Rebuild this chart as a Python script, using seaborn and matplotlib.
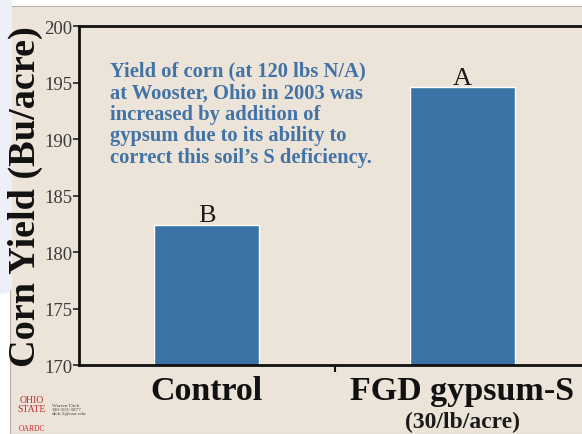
import matplotlib
matplotlib.use('Agg')
import matplotlib.pyplot as plt
import matplotlib.patches as mpatches
import seaborn as sns
import pandas as pd

# data
categories = ['Control', 'FGD gypsum-S']
yields = [182.4, 194.6]
letters = ['B', 'A']
sub_labels = ['', '(30/lb/acre)']
yticks = [170, 175, 180, 185, 190, 195, 200]
note = ("Yield of corn (at 120 lbs N/A)\n"
        "at Wooster, Ohio in 2003 was\n"
        "increased by addition of\n"
        "gypsum due to its ability to\n"
        "correct this soil\u2019s S deficiency.")

BG = '#ede4d9'
BAR = '#3b73a6'
NOTE = '#4273a6'
SERIF = 'Liberation Serif'

sns.set_style('white')
plt.rcParams['font.family'] = [SERIF, 'DejaVu Serif']

df = pd.DataFrame({'cat': categories, 'yield': yields})

fig = plt.figure(figsize=(5.82, 4.35), dpi=100)
fig.patch.set_facecolor('white')

# slide panel + left strip
fig.patches.append(mpatches.Rectangle((10/582, 0), 1, (435-7)/435, transform=fig.transFigure,
                                      facecolor=BG, edgecolor='#b9b2aa', lw=0.8, zorder=-2))
fig.patches.append(mpatches.FancyBboxPatch((-0.02, 140/435), 12/582 + 0.02, 300/435,
                                           transform=fig.transFigure,
                                           boxstyle='round,pad=0,rounding_size=0.02',
                                           facecolor='#eef0f8', edgecolor='none', zorder=-1))

ax = fig.add_axes([79/582, (435-366)/435, (590-79)/582, (366-27)/435])
ax.set_facecolor(BG)
sns.barplot(data=df, x='cat', y='yield', color=BAR, width=0.41, saturation=1, ax=ax)

ax.set_ylim(170, 200)
ax.set_xlim(-0.5, 1.5)
ax.set_yticks(yticks)
ax.set_yticklabels([str(t) for t in yticks], fontsize=13.5, color='#3a3a3a', family=SERIF)
ax.tick_params(axis='y', direction='out', length=4, width=1.2, color='#222222', pad=1, left=True)
ax.set_xticks([0, 1])
ax.set_xticklabels(categories, fontsize=24.5, fontweight='bold', family=SERIF, color='#111111')
ax.tick_params(axis='x', length=0, pad=7)
ax.set_xticks([0.5], minor=True)
ax.tick_params(axis='x', which='minor', direction='out', length=5, width=1.5, color='#111111',
               bottom=True)

for s in ['left', 'bottom', 'top']:
    ax.spines[s].set_visible(True)
    ax.spines[s].set_color('#111111')
    ax.spines[s].set_linewidth(2)
ax.spines['right'].set_visible(False)

ax.set_xlabel('')
ax.set_ylabel('Corn Yield (Bu/acre)', fontsize=27.5, fontweight='bold', family=SERIF,
              color='#111111', labelpad=1)

for i, (v, lab) in enumerate(zip(yields, letters)):
    ax.text(i, v + 0.3, lab, ha='center', va='baseline', fontsize=19, color='#1a1a1a',
            family=SERIF)

for i, sl in enumerate(sub_labels):
    if sl:
        ax.text(i, -0.135, sl, transform=ax.get_xaxis_transform(), ha='center', va='top',
                fontsize=17, fontweight='bold', family=SERIF, color='#1a1a1a')

ax.text(0.06, 0.897, note, transform=ax.transAxes, ha='left', va='top', fontsize=14.8,
        fontweight='bold', color=NOTE, family=SERIF, linespacing=1.1)

# logo corner
fig.text(32/582, 1 - 405/435, 'OHIO\nSTATE', ha='center', va='center', fontsize=7,
         color='#c0282e', family=SERIF, linespacing=0.9)
fig.text(32/582, 1 - 429/435, 'OARDC', ha='center', va='center', fontsize=5.5,
         color='#c0282e', family=SERIF)
fig.text(52/582, 1 - 410/435, 'Warren Dick\n330-263-3877\ndick.5@osu.edu', ha='left', va='center',
         fontsize=3.8, color='#444444', family=SERIF, linespacing=1.1)

fig.savefig('out.png', dpi=100, facecolor=fig.get_facecolor())
